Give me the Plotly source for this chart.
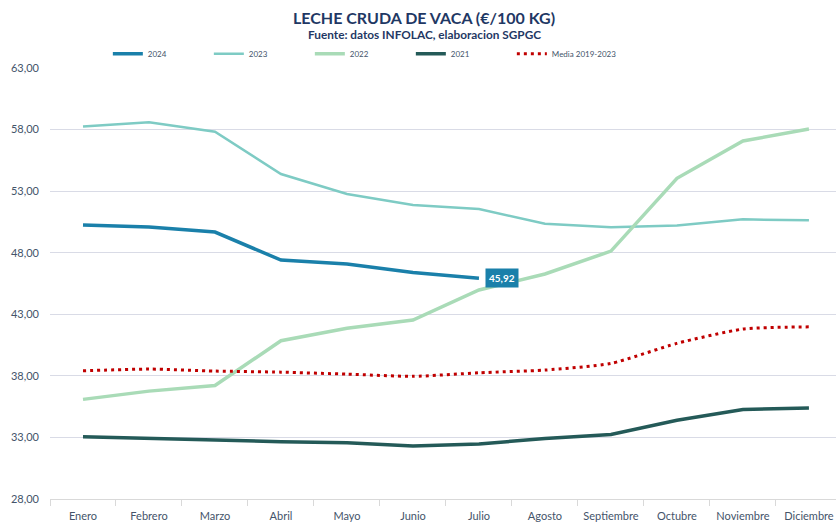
import plotly.graph_objects as go

meses = ["Enero", "Febrero", "Marzo", "Abril", "Mayo", "Junio", "Julio",
         "Agosto", "Septiembre", "Octubre", "Noviembre", "Diciembre"]

v2024 = [50.25, 50.08, 49.68, 47.40, 47.08, 46.40, 45.92]
v2023 = [58.24, 58.59, 57.83, 54.39, 52.77, 51.87, 51.55, 50.35, 50.06, 50.22, 50.71, 50.63]
v2022 = [36.09, 36.76, 37.22, 40.85, 41.86, 42.53, 44.97, 46.27, 48.13, 54.04, 57.07, 58.04]
v2021 = [33.05, 32.90, 32.76, 32.65, 32.57, 32.30, 32.46, 32.92, 33.24, 34.40, 35.27, 35.38]
media = [38.41, 38.55, 38.39, 38.30, 38.14, 37.96, 38.25, 38.47, 39.01, 40.64, 41.80, 41.98]

title = "LECHE CRUDA DE VACA (€/100 KG)"
subtitle = "Fuente: datos INFOLAC, elaboracion SGPGC"

FONT = "Lato"
TXT = "#44546a"

fig = go.Figure()
fig.add_trace(go.Scatter(x=meses[:len(v2024)], y=v2024, name="2024", mode="lines",
                         line=dict(color="#1a80aa", width=3.5)))
fig.add_trace(go.Scatter(x=meses, y=v2023, name="2023", mode="lines",
                         line=dict(color="#7ecbc4", width=2.5)))
fig.add_trace(go.Scatter(x=meses, y=v2022, name="2022", mode="lines",
                         line=dict(color="#a9dbb7", width=3.5)))
fig.add_trace(go.Scatter(x=meses, y=v2021, name="2021", mode="lines",
                         line=dict(color="#245a58", width=3.5)))
fig.add_trace(go.Scatter(x=meses, y=media, name="Media 2019-2023", mode="lines", legend="legend2",
                         line=dict(color="#c00000", width=3, dash="3px,4px", shape="spline", smoothing=0.6)))

last = v2024[-1]
fig.add_annotation(x=meses[len(v2024) - 1], y=last, text="<b>" + f"{last:.2f}".replace(".", ",") + "</b>",
                   showarrow=False, xanchor="left", xshift=6, bgcolor="#1a80aa",
                   font=dict(family=FONT, size=10, color="white"), borderpad=3)

fig.add_annotation(text="<b>" + title + "</b>", xref="paper", yref="paper", x=0.5, y=1.118,
                   xanchor="center", yanchor="middle", showarrow=False,
                   font=dict(family=FONT, size=16, color="#1f3864"), xshift=-19)
fig.add_annotation(text="<b>" + subtitle + "</b>", xref="paper", yref="paper", x=0.5, y=1.0766,
                   xanchor="center", yanchor="middle", showarrow=False,
                   font=dict(family=FONT, size=11.8, color="#1f3864"), xshift=-19)

leg_common = dict(orientation="h", xref="container", yref="container", y=0.897,
                  xanchor="left", yanchor="middle", entrywidth=56, entrywidthmode="pixels",
                  font=dict(family=FONT, size=8, color=TXT), bgcolor="rgba(0,0,0,0)")

fig.update_layout(
    width=836, height=523,
    margin=dict(l=50, r=0, t=68, b=24, autoexpand=False),
    plot_bgcolor="white", paper_bgcolor="white",
    separators=",.",
    showlegend=True,
    legend=dict(x=0.129, **leg_common),
    legend2=dict(x=0.129 + 4 * 101 / 836, orientation="h", xref="container", yref="container", y=0.897,
                 xanchor="left", yanchor="middle",
                 font=dict(family=FONT, size=8, color=TXT), bgcolor="rgba(0,0,0,0)"),
    font=dict(family=FONT, color=TXT),
)
fig.update_xaxes(type="category", range=[-0.5, 11.41], tickson="boundaries", ticks="outside",
                 ticklen=6, tickcolor="#d9d9d9", showline=True, linecolor="#d9d9d9",
                 showgrid=False, automargin=False, ticklabelstandoff=7,
                 tickfont=dict(family=FONT, size=11, color=TXT))
fig.update_yaxes(range=[28, 63], dtick=5, tick0=28, tickformat=".2f", showgrid=True,
                 gridcolor="#d9dbe6", gridwidth=1, zeroline=False, showline=False, automargin=False,
                 ticklabelstandoff=10, tickfont=dict(family=FONT, size=11, color=TXT))

fig.write_html("out.html", config={"displayModeBar": False},
               post_script="document.body.style.margin='0';")
